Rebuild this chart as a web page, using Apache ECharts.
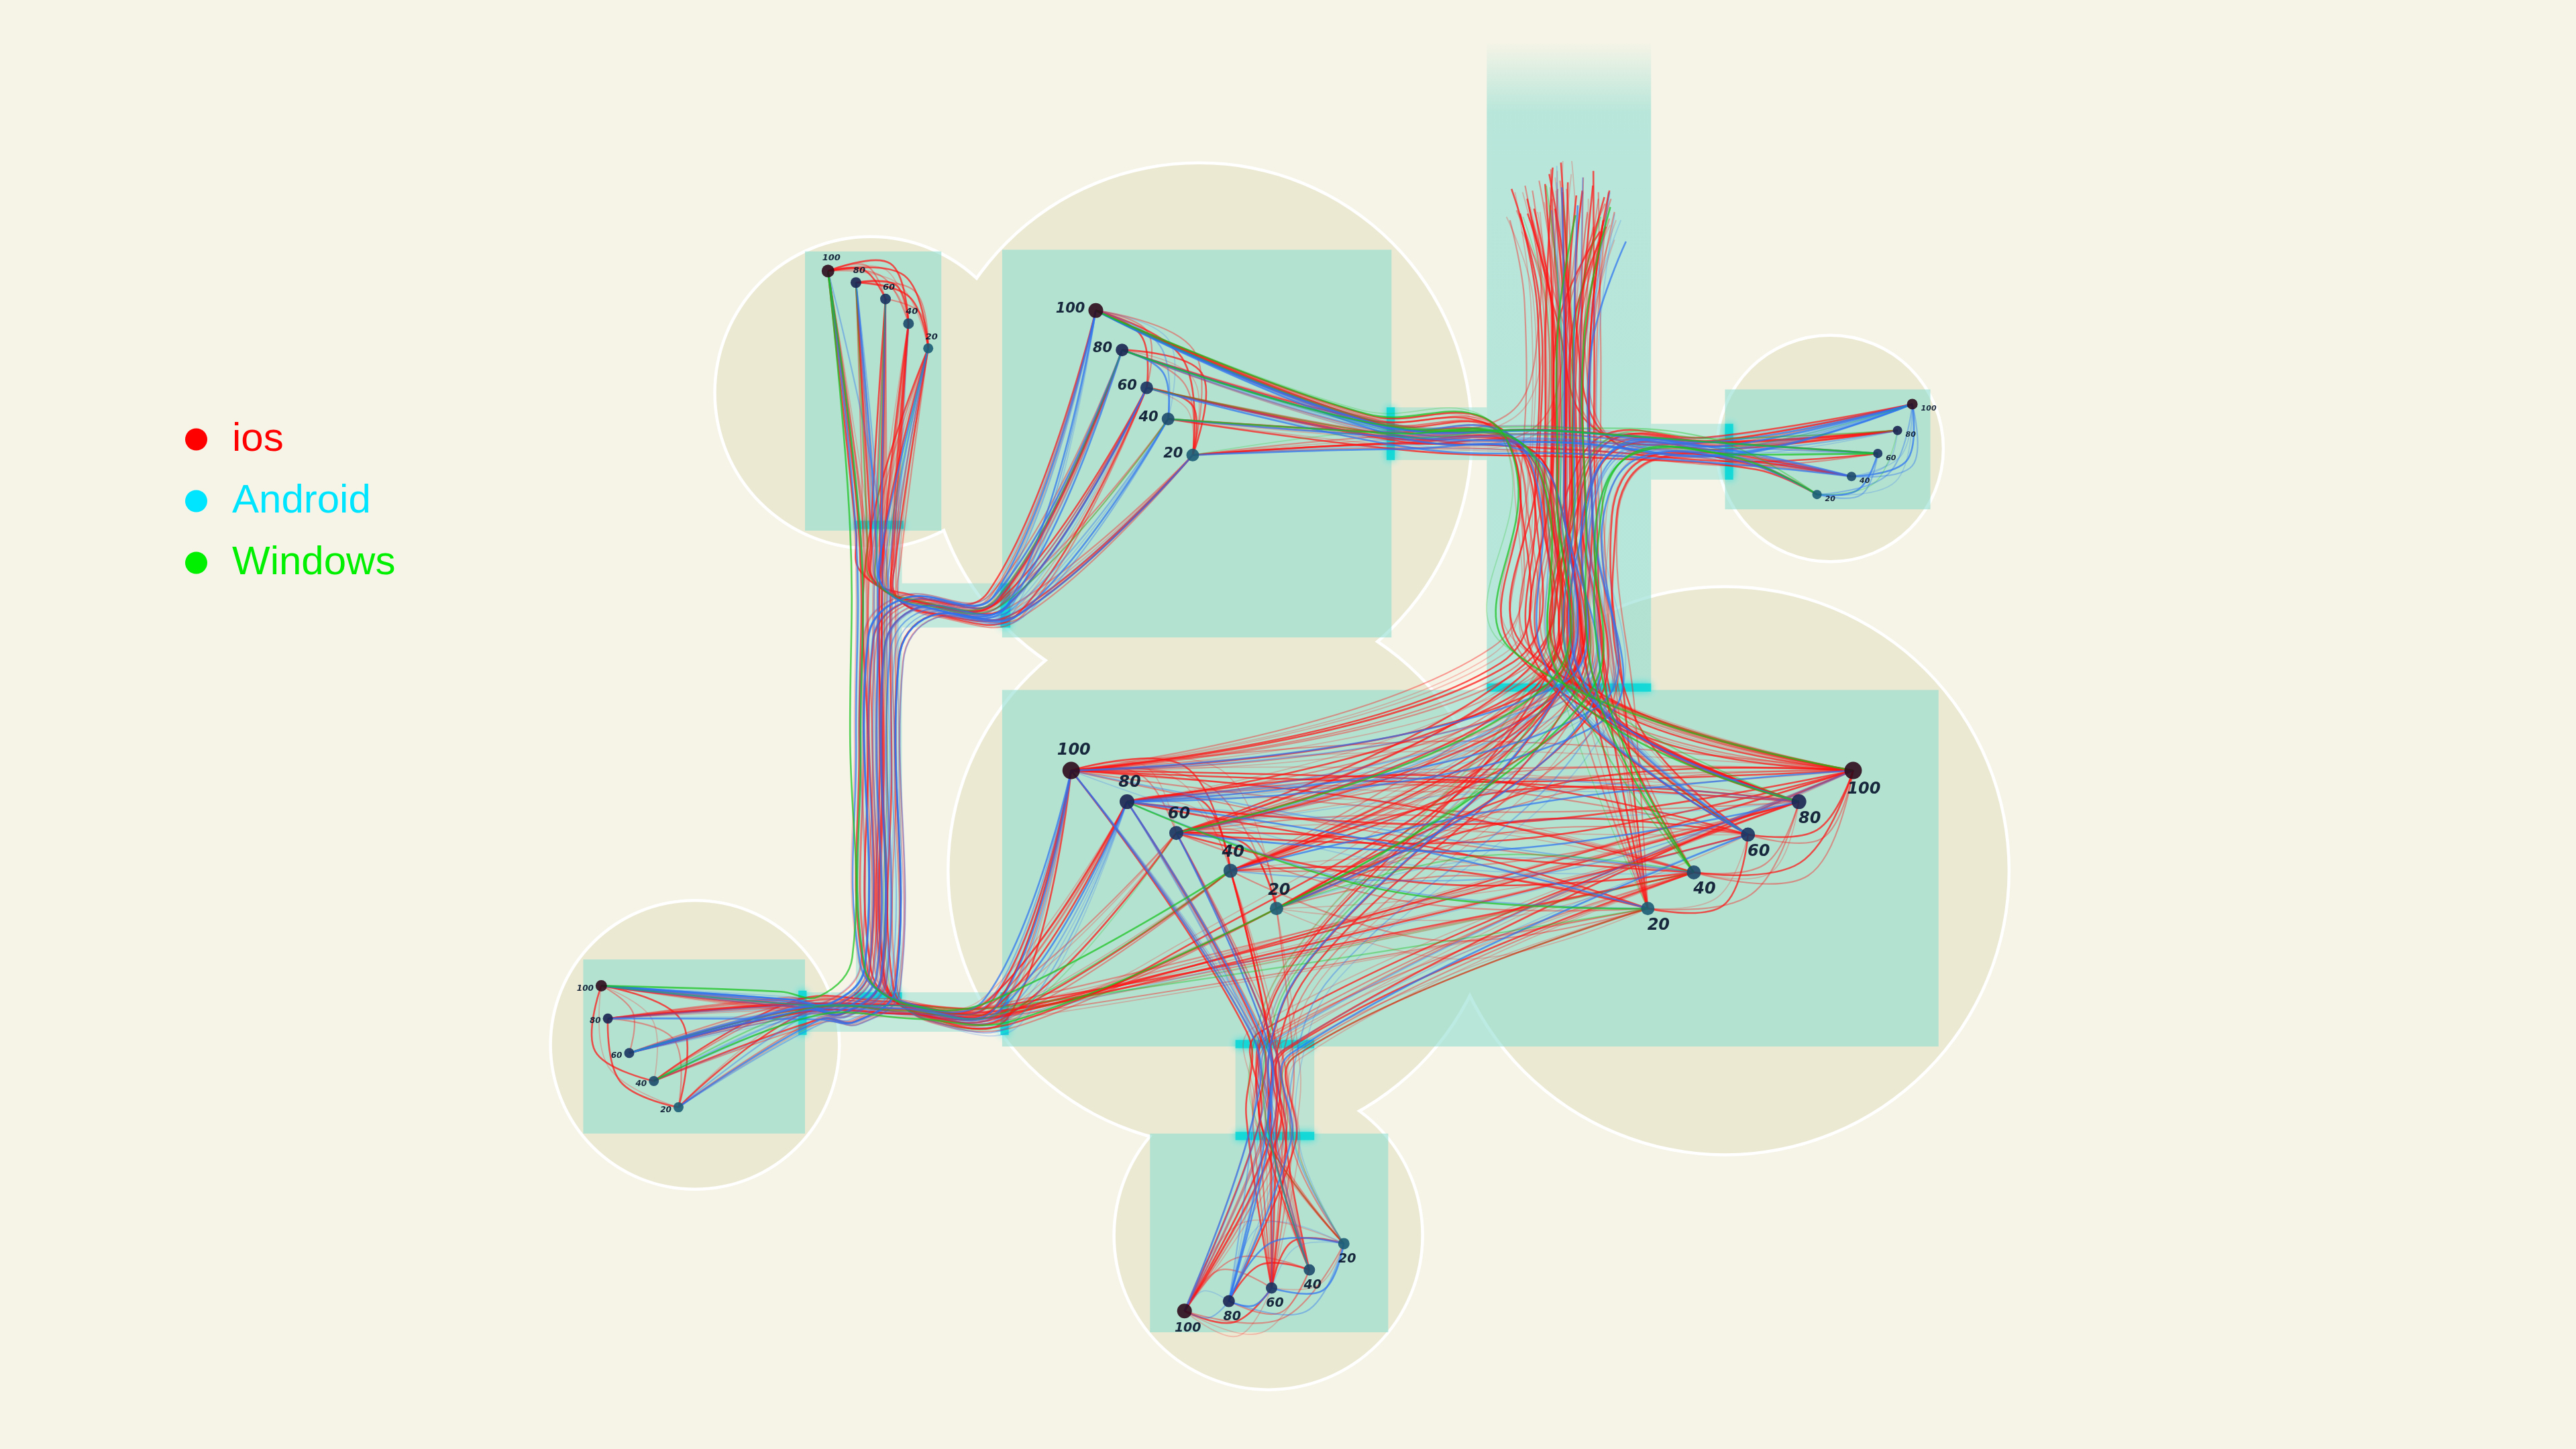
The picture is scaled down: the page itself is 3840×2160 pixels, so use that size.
<!DOCTYPE html>
<html>
<head>
<meta charset="utf-8">
<title>ios / Android / Windows</title>
<style>
  html, body { margin: 0; padding: 0; background: #f6f4e7; }
  #main { width: 100vw; height: 100vh; }
</style>
<script src="https://cdn.jsdelivr.net/npm/echarts@6/dist/echarts.min.js"></script>
</head>
<body>
<div id="main"></div>
<script>
// everything is in picture units (1568 x 882), the axes map them to the window
var nodeLabels = ['100', '80', '60', '40', '20'];

// node positions of the seven groups
var clusterA = [[504, 165], [521, 172], [539, 182], [553, 197], [565, 212]];
var clusterB = [[667, 189], [683, 213], [698, 236], [711, 255], [726, 277]];
var clusterC = [[1164, 246], [1155, 262], [1143, 276], [1127, 290], [1106, 301]];
var clusterD = [[652, 469], [686, 488], [716, 507], [749, 530], [777, 553]];
var clusterE = [[1128, 469], [1095, 488], [1064, 508], [1031, 531], [1003, 553]];
var clusterF = [[366, 600], [370, 620], [383, 641], [398, 658], [413, 674]];
var clusterG = [[721, 798], [748, 792], [774, 784], [797, 773], [818, 757]];
// where the strands coming from the top start
var topStarts = [[937, 112], [945, 100], [953, 96], [961, 104], [969, 110], [976, 120]];

// background circles [cx, cy, r]
var circles = [[530, 239, 94], [730, 265, 165], [1114, 273, 68], [745, 530, 167],
               [1050, 530, 172], [423, 636, 87], [772, 752, 93]];
// panels [x0, y0, x1, y1]
var panels = [[490, 153, 573, 323], [610, 152, 847, 388], [1050, 237, 1175, 310],
              [610, 420, 1180, 637], [355, 584, 490, 690], [700, 690, 845, 811]];
var corridors = [[521, 320, 549, 610], [549, 355, 612, 382], [490, 604, 612, 628],
                 [847, 248, 905, 280], [1005, 258, 1053, 292], [752, 637, 800, 690]];
var channel = [[905, 25, 1005, 420]];
var cyanBars = [[520, 317, 550, 322], [520, 604, 549, 608], [609, 355, 615, 382],
                [486, 603, 491, 630], [609, 604, 614, 630], [844, 248, 849, 280],
                [1050, 258, 1055, 292], [905, 416, 1005, 421], [752, 633, 800, 638],
                [752, 689, 800, 694]];

// links [from, to, strands]
var iosLinks = [
  ['A100', 'A60', 2], ['A100', 'A40', 3], ['A80', 'A40', 2], ['A80', 'A20', 2], ['A60', 'A20', 1], ['A100', 'A20', 2],
  ['A100', 'B100', 3], ['A100', 'B80', 2], ['A100', 'D80', 3], ['A80', 'B60', 3], ['A80', 'D60', 2],
  ['A60', 'D40', 3], ['A60', 'F60', 2], ['A40', 'B20', 3], ['A40', 'D20', 3], ['A20', 'D100', 4],
  ['A20', 'F20', 2], ['A20', 'B60', 3], ['A60', 'B80', 2], ['A80', 'F100', 2], ['A40', 'E60', 2],
  ['B100', 'B60', 2], ['B80', 'B20', 3], ['B60', 'B20', 2], ['B100', 'B20', 2],
  ['B80', 'F80', 3], ['B60', 'F60', 2], ['B20', 'F40', 2], ['B40', 'F100', 2],
  ['B100', 'C80', 3], ['B100', 'E80', 3], ['B60', 'E20', 3], ['B40', 'C20', 2], ['B40', 'D60', 3],
  ['B20', 'E100', 3], ['B80', 'D100', 3], ['B100', 'E60', 2], ['B80', 'C40', 2], ['B60', 'D20', 2],
  ['B20', 'C60', 2],
  ['C80', 'D40', 3], ['C40', 'E20', 3], ['C100', 'E100', 2], ['C60', 'B100', 2], ['C20', 'E60', 2],
  ['C100', 'D60', 2],
  ['T1', 'D100', 5], ['T2', 'D80', 4], ['T3', 'D60', 4], ['T4', 'D40', 3], ['T1', 'E100', 4],
  ['T2', 'E80', 4], ['T4', 'E40', 4], ['T5', 'E20', 3], ['T6', 'G100', 3], ['T3', 'G60', 3],
  ['T4', 'F100', 2], ['T1', 'C80', 2], ['T2', 'B100', 2], ['T5', 'D20', 3], ['T6', 'E60', 3],
  ['T3', 'E100', 3], ['T2', 'D40', 3], ['T6', 'D100', 3], ['T5', 'E80', 3], ['T1', 'G40', 2],
  ['T4', 'C40', 2], ['T3', 'B60', 2],
  ['D100', 'E100', 4], ['D100', 'E80', 3], ['D80', 'E60', 3], ['D60', 'E40', 3], ['D40', 'E20', 3],
  ['D20', 'E100', 3], ['D60', 'E100', 3], ['D40', 'E80', 3], ['D20', 'E60', 3], ['D80', 'E100', 3],
  ['D100', 'E40', 2], ['D20', 'E20', 2], ['D80', 'E40', 2], ['D60', 'E20', 2],
  ['D100', 'D60', 2], ['D80', 'D40', 2], ['D60', 'D20', 2], ['D100', 'D20', 2], ['D100', 'D40', 2],
  ['E100', 'E60', 2], ['E80', 'E40', 2], ['E60', 'E20', 2], ['E100', 'E40', 2], ['E80', 'E20', 1],
  ['D60', 'G60', 3], ['D40', 'G40', 3], ['D20', 'G20', 2], ['D80', 'G20', 3], ['D100', 'G60', 3],
  ['E100', 'G40', 3], ['E80', 'G100', 3], ['E40', 'G60', 3], ['E40', 'G100', 2], ['E20', 'G80', 2],
  ['D40', 'G100', 2],
  ['D80', 'F80', 3], ['D60', 'F60', 2], ['E40', 'F80', 3], ['E80', 'F60', 3], ['E100', 'F20', 2],
  ['D100', 'F40', 2], ['E20', 'F100', 2],
  ['F100', 'F40', 2], ['F80', 'F20', 2], ['F100', 'F60', 1], ['F100', 'F20', 2],
  ['G100', 'G60', 3], ['G100', 'G40', 2], ['G60', 'G20', 2], ['G80', 'G40', 2], ['G100', 'G20', 2]
];
var androidLinks = [
  ['A100', 'D100', 2], ['A80', 'F80', 2], ['A40', 'F40', 1], ['A20', 'B100', 3], ['A20', 'D80', 2],
  ['A60', 'B60', 2], ['A80', 'F60', 2], ['A100', 'F20', 1],
  ['B100', 'F100', 3], ['B40', 'F20', 2], ['B100', 'B40', 2], ['B80', 'F60', 2], ['B80', 'B40', 1],
  ['B60', 'F40', 2], ['B20', 'F80', 2], ['B80', 'F100', 2], ['B40', 'F60', 2],
  ['B100', 'C100', 5], ['B80', 'E60', 3], ['B60', 'C40', 3], ['B20', 'D20', 2], ['B100', 'C60', 3],
  ['B80', 'C80', 2], ['B40', 'C100', 2],
  ['C100', 'E60', 3], ['C20', 'D80', 3], ['C100', 'C40', 3], ['C60', 'C20', 2], ['C100', 'C20', 2],
  ['C80', 'C40', 1], ['C40', 'D100', 2],
  ['T5', 'G20', 2], ['T6', 'D80', 2], ['T4', 'E80', 2], ['T2', 'D60', 2], ['T3', 'G80', 2],
  ['D80', 'E20', 2], ['D100', 'E40', 2], ['D60', 'E80', 2], ['D40', 'E100', 2], ['D80', 'E80', 2],
  ['D20', 'E40', 1],
  ['D100', 'G100', 3], ['D80', 'G80', 3], ['E60', 'G80', 2], ['D60', 'G40', 2], ['E100', 'G60', 1],
  ['D100', 'F100', 3], ['D80', 'F60', 1], ['F60', 'D80', 2], ['F40', 'E60', 1],
  ['G80', 'G20', 3], ['G100', 'G80', 2], ['G60', 'G20', 2], ['G80', 'G60', 1]
];
var windowsLinks = [
  ['A100', 'F100', 1], ['A60', 'B40', 1], ['A20', 'D60', 1], ['A100', 'D40', 1], ['A80', 'B80', 1],
  ['B100', 'E100', 2], ['B80', 'C60', 1], ['B60', 'E40', 1], ['B20', 'C100', 1], ['B40', 'E80', 1],
  ['B100', 'C20', 1], ['B80', 'E20', 1],
  ['C60', 'E40', 1], ['C80', 'E80', 1], ['C80', 'C20', 1], ['C20', 'D20', 1],
  ['T5', 'D20', 1], ['T3', 'E60', 1], ['T6', 'E40', 1], ['T2', 'G40', 1], ['T1', 'G20', 1], ['T4', 'D60', 1],
  ['D20', 'E40', 1], ['E20', 'G20', 1], ['D20', 'F40', 1], ['E20', 'F100', 1], ['E40', 'F60', 1],
  ['E20', 'D80', 1], ['F40', 'D40', 1]
];

// corridor waypoints between groups [x, y, spread]
var hubRoutes = {
  'A-B': [[535, 334, 1.3], [536, 356, 1.2], [558, 368, 1], [612, 368, 1]],
  'A-Q': [[535, 334, 1.3], [535, 460, 1.3], [536, 594, 1.2], [558, 616, 1], [612, 616, 1.2]],
  'A-F': [[535, 334, 1.3], [535, 460, 1.3], [535, 594, 1.2], [512, 616, 1], [490, 614, 1.1]],
  'B-F': [[612, 368, 1], [558, 369, 1], [537, 394, 1.2], [535, 594, 1.2], [512, 616, 1], [490, 614, 1.1]],
  'B-C': [[847, 264, 1.6], [955, 268, 1.6], [1053, 275, 1.6]],
  'B-Q': [[847, 264, 1.4], [918, 266, 1.4], [940, 305, 1.5], [946, 420, 2.8]],
  'C-Q': [[1053, 275, 1.4], [992, 273, 1.4], [970, 308, 1.5], [964, 420, 2.8]],
  'T-Q': [[955, 200, 1.8], [955, 300, 1.9], [955, 420, 2.9]],
  'T-C': [[957, 200, 1.8], [978, 266, 1.5], [1053, 275, 1.5]],
  'T-B': [[953, 200, 1.8], [930, 262, 1.5], [847, 264, 1.5]],
  'T-G': [[955, 200, 1.8], [955, 300, 1.9], [955, 420, 2.6], [800, 585, 1.5], [776, 637, 1.6], [776, 690, 1.6]],
  'T-F': [[955, 200, 1.8], [955, 300, 1.9], [955, 420, 2.6], [700, 590, 1.2], [612, 616, 1.2], [490, 614, 1.1]],
  'Q-G': [[776, 637, 1.8], [776, 690, 1.8]],
  'Q-F': [[612, 616, 1.3], [551, 615, 1.3], [490, 614, 1.1]]
};

var clusters = { A: clusterA, B: clusterB, C: clusterC, D: clusterD, E: clusterE, F: clusterF, G: clusterG };
var arcSide = { A: -1, B: -1, C: -1, D: -1, E: -1, F: -1, G: 1 };
var arcBothSides = { F: true, G: true };

function nodePos(id) {
  var c = id.charAt(0), key = id.slice(1);
  if (c === 'T') return topStarts[+key - 1];
  return clusters[c][nodeLabels.indexOf(key)];
}
function nodeRank(id) {
  var c = id.charAt(0), key = id.slice(1);
  if (c === 'T') return (+key - 1) * 0.8;
  return nodeLabels.indexOf(key);
}
function groupOf(id) {
  var c = id.charAt(0);
  return (c === 'D' || c === 'E') ? 'Q' : c;
}
function routeHubs(ga, gb) {
  if (hubRoutes[ga + '-' + gb]) return hubRoutes[ga + '-' + gb];
  if (hubRoutes[gb + '-' + ga]) return hubRoutes[gb + '-' + ga].slice().reverse();
  return [];
}

// three strengths of strand: strong, medium, faint
var strandAlpha = [0.72, 0.4, 0.24];
var strandWidth = [2.6, 2.2, 1.8];

function buildStrands(links, rgb, lane) {
  var out = [];
  links.forEach(function (lk, li) {
    var a = nodePos(lk[0]), b = nodePos(lk[1]);
    var ra = nodeRank(lk[0]), rb = nodeRank(lk[1]);
    var ga = groupOf(lk[0]), gb = groupOf(lk[1]);
    var ca = lk[0].charAt(0), cb = lk[1].charAt(0);
    // strands to the left half of the big panel keep left in the channel
    var side = (ca === 'D' || cb === 'D') ? -1 : ((ca === 'E' || cb === 'E') ? 1 : 0);
    // each link gets its own lane inside a corridor
    var linkLane = ((li * 7) % 5 - 2) * 1.3;
    for (var k = 0; k < lk[2]; k++) {
      var o = lane + linkLane + (ra - 2) * 2.6 + (rb - 2) * 1.6 + (k - (lk[2] - 1) / 2) * 2.2;
      var start = a;
      if (ca === 'T') {
        // strands from the top fade in at slightly different heights
        start = [a[0] + o * 1.4, a[1] + ((k * 13 + li * 7) % 30)];
      }
      var pts;
      if (ga === gb) {
        var dx = b[0] - a[0], dy = b[1] - a[1];
        var len = Math.sqrt(dx * dx + dy * dy);
        var bulge;
        if (ca === cb) {
          bulge = len * (0.26 + 0.08 * k) * arcSide[ca] * (arcBothSides[ca] && (k + li) % 2 ? -1 : 1);
        } else {
          bulge = (k % 2 ? 1 : -1) * (8 + 4 * ra + 3 * k) + lane * 2 + linkLane * 3;
        }
        pts = [a, [(a[0] + b[0]) / 2 - dy / len * bulge, (a[1] + b[1]) / 2 + dx / len * bulge], b];
      } else {
        pts = [start];
        routeHubs(ga, gb).forEach(function (h) {
          var s = h[2] || 1;
          pts.push([h[0] + o * s + side * 5 * Math.max(0, s - 1), h[1] + o * s * 0.7]);
        });
        pts.push(b);
      }
      out.push({
        pts: pts,
        color: 'rgba(' + rgb.join(',') + ',' + strandAlpha[(k + li) % 3] + ')',
        width: strandWidth[(k + li) % 3]
      });
    }
  });
  return out;
}

var iosStrands = buildStrands(iosLinks, [255, 20, 20], 0);
var androidStrands = buildStrands(androidLinks, [45, 115, 240], 2.5);
var windowsStrands = buildStrands(windowsLinks, [25, 195, 30], -2.5);

function strandSeries(name, strands, color, z) {
  return {
    name: name,
    type: 'custom',
    coordinateSystem: 'cartesian2d',
    z: z,
    silent: true,
    itemStyle: { color: color },
    data: strands.map(function (s) { return s.pts[0]; }),
    renderItem: function (params, api) {
      var s = strands[params.dataIndex];
      return {
        type: 'polyline',
        shape: { points: s.pts.map(function (p) { return api.coord(p); }), smooth: 0.4 },
        style: { fill: 'none', stroke: s.color, lineWidth: s.width }
      };
    }
  };
}

function boxSeries(data, fill, z, extra) {
  return {
    type: 'custom',
    coordinateSystem: 'cartesian2d',
    z: z,
    silent: true,
    data: data,
    renderItem: function (params, api) {
      var p0 = api.coord([api.value(0), api.value(1)]);
      var p1 = api.coord([api.value(2), api.value(3)]);
      var style = { fill: fill };
      if (extra) { for (var k in extra) style[k] = extra[k]; }
      return {
        type: 'rect',
        shape: { x: p0[0], y: p0[1], width: p1[0] - p0[0], height: p1[1] - p0[1] },
        style: style
      };
    }
  };
}

function circleSeries(fill, stroke, lineWidth, z) {
  return {
    type: 'custom',
    coordinateSystem: 'cartesian2d',
    z: z,
    silent: true,
    data: circles,
    renderItem: function (params, api) {
      var c = api.coord([api.value(0), api.value(1)]);
      var r = api.size([api.value(2), 0])[0];
      return {
        type: 'circle',
        shape: { cx: c[0], cy: c[1], r: r },
        style: { fill: fill, stroke: stroke, lineWidth: lineWidth }
      };
    }
  };
}

// node look per group
var clusterStyle = {
  A: { size: [19, 16, 16, 16, 15], font: 13, pos: 'top', offset: [5, 2] },
  B: { size: [22, 19, 19, 19, 19], font: 21, pos: 'left', offset: [0, -2] },
  C: { size: [16, 14, 14, 14, 14], font: 11, pos: 'right', offset: [0, 7] },
  D: { size: [26, 22, 21, 21, 20], font: 24, pos: 'top', offset: [4, 0] },
  E: { size: [26, 22, 21, 21, 20], font: 24, pos: 'bottom', offset: [16, -2] },
  F: { size: [17, 15, 15, 15, 15], font: 12, pos: 'left', offset: [2, 4] },
  G: { size: [22, 18, 17, 17, 17], font: 19, pos: 'bottom', offset: [5, 0] }
};
var rankColors = ['#2d0b1c', '#1a2552', '#1b3461', '#1d4a6a', '#1c5d74'];

var nodeData = [];
Object.keys(clusters).forEach(function (c) {
  var st = clusterStyle[c];
  clusters[c].forEach(function (p, i) {
    nodeData.push({
      name: nodeLabels[i],
      value: p,
      symbolSize: st.size[i],
      itemStyle: { color: rankColors[i], opacity: 0.9 },
      label: { position: st.pos, offset: st.offset, fontSize: st.font }
    });
  });
});

var teal = 'rgba(143,221,209,';

var chart = echarts.init(document.getElementById('main'));
var option = {
  backgroundColor: '#f6f4e7',
  animation: false,
  grid: { left: 0, right: 0, top: 0, bottom: 0 },
  xAxis: { type: 'value', min: 0, max: 1568, show: false },
  yAxis: { type: 'value', min: 0, max: 882, inverse: true, show: false },
  legend: {
    orient: 'vertical',
    left: 271,
    top: 620,
    itemWidth: 33,
    itemHeight: 33,
    itemGap: 32,
    icon: 'circle',
    textStyle: { fontFamily: 'Liberation Sans', fontSize: 60, lineHeight: 60, padding: [0, 0, 0, 32] },
    data: [
      { name: 'ios', itemStyle: { color: '#ff0000' }, textStyle: { color: '#ff0000' } },
      { name: 'Android', itemStyle: { color: '#00e5ff' }, textStyle: { color: '#00e5ff' } },
      { name: 'Windows', itemStyle: { color: '#00f000' }, textStyle: { color: '#00f000' } }
    ]
  },
  series: [
    circleSeries('#ffffff', '#ffffff', 9, 1),
    circleSeries('#ece9d3', null, 0, 2),
    boxSeries(panels, teal + '0.6)', 3),
    boxSeries(corridors, teal + '0.5)', 3),
    boxSeries(channel, new echarts.graphic.LinearGradient(0, 0, 0, 1, [
      { offset: 0, color: teal + '0)' },
      { offset: 0.11, color: teal + '0.6)' },
      { offset: 1, color: teal + '0.62)' }
    ]), 3),
    boxSeries(cyanBars, 'rgba(10,214,214,0.88)', 4, { shadowBlur: 12, shadowColor: 'rgba(0,225,225,0.9)' }),
    strandSeries('ios', iosStrands, '#ff0000', 5),
    strandSeries('Android', androidStrands, '#00e5ff', 6),
    strandSeries('Windows', windowsStrands, '#00f000', 7),
    {
      type: 'scatter',
      z: 8,
      silent: true,
      data: nodeData,
      label: {
        show: true,
        formatter: '{b}',
        color: '#06142c',
        fontFamily: 'DejaVu Sans',
        fontWeight: 'bold',
        fontStyle: 'italic'
      }
    }
  ]
};
chart.setOption(option);
window.addEventListener('resize', function () {
  chart.resize();
});
</script>
</body>
</html>
